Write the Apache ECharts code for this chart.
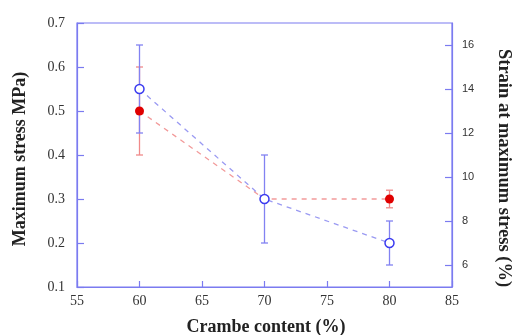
<!DOCTYPE html>
<html><head><meta charset="utf-8">
<script src="https://cdn.jsdelivr.net/npm/echarts@6/dist/echarts.min.js"></script>
<style>html,body{margin:0;padding:0;background:#fff}#c{width:512px;height:335px}</style>
</head><body><div id="c"></div>
<script>
const crambe = [60, 70, 80];
const stress = [0.5, 0.3, 0.3];
const stressLow = [0.4, 0.3, 0.28];
const stressHigh = [0.6, 0.3, 0.32];
const strain = [14, 9, 7];
const strainLow = [12, 7, 6];
const strainHigh = [16, 11, 8];
const xTicks = [55, 60, 65, 70, 75, 80, 85];
const leftTicks = [0.1, 0.2, 0.3, 0.4, 0.5, 0.6, 0.7];
const rightTicks = [6, 8, 10, 12, 14, 16];
const xTitle = 'Crambe content (%)';
const leftTitle = 'Maximum stress MPa)';
const rightTitle = 'Strain at maximum stress (%)';

const axisBlue = '#7b7bf0';
const serif = '"Liberation Serif", "DejaVu Serif", serif';
const titleFont = 'bold 18px "Liberation Serif", "DejaVu Serif", serif';

function errSeries(yIdx, lo, hi, color) {
  return {
    type: 'custom', yAxisIndex: yIdx, z: 2,
    data: crambe.map((x, i) => [x, lo[i], hi[i]]),
    renderItem: function (params, api) {
      const p1 = api.coord([api.value(0), api.value(1)]);
      const p2 = api.coord([api.value(0), api.value(2)]);
      if (Math.abs(p1[1] - p2[1]) < 1) return null;
      const w = 3.5;
      const st = { stroke: color, lineWidth: 1.3 };
      return { type: 'group', children: [
        { type: 'line', shape: { x1: p1[0], y1: p1[1], x2: p2[0], y2: p2[1] }, style: st },
        { type: 'line', shape: { x1: p1[0] - w, y1: p1[1], x2: p1[0] + w, y2: p1[1] }, style: st },
        { type: 'line', shape: { x1: p2[0] - w, y1: p2[1], x2: p2[0] + w, y2: p2[1] }, style: st }
      ]};
    }
  };
}

const chart = echarts.init(document.getElementById('c'));
chart.setOption({
  animation: false,
  grid: { left: 77, right: 60, top: 23, bottom: 48, containLabel: false, outerBoundsMode: 'none',
    show: true, borderColor: axisBlue, borderWidth: 1.2, backgroundColor: 'transparent' },
  graphic: [
    { type: 'text', x: 266, y: 327, style: { text: xTitle, font: titleFont, fill: '#222', textAlign: 'center', textVerticalAlign: 'middle' } },
    { type: 'text', x: 20, y: 159, rotation: Math.PI / 2, style: { text: leftTitle, font: titleFont, fill: '#222', textAlign: 'center', textVerticalAlign: 'middle' } },
    { type: 'text', x: 504, y: 168, rotation: -Math.PI / 2, style: { text: rightTitle, font: 'bold 18.5px "Liberation Serif", "DejaVu Serif", serif', fill: '#222', textAlign: 'center', textVerticalAlign: 'middle' } }
  ],
  xAxis: {
    type: 'value', min: 55, max: 85, interval: 5,
    axisLine: { lineStyle: { color: axisBlue, width: 1.2 } },
    axisTick: { inside: true, length: 6, lineStyle: { color: axisBlue, width: 1.2 } },
    axisLabel: { color: '#333', fontFamily: serif, fontSize: 14, margin: 7, customValues: xTicks },
    splitLine: { show: false }
  },
  yAxis: [{
    type: 'value', min: 0.1, max: 0.7, interval: 0.1,
    axisLine: { show: true, lineStyle: { color: axisBlue, width: 1.2 } },
    axisTick: { inside: true, length: 7, lineStyle: { color: axisBlue, width: 1.2 } },
    axisLabel: { color: '#333', fontFamily: serif, fontSize: 14, margin: 12, formatter: v => v.toFixed(1) },
    splitLine: { show: false }
  }, {
    type: 'value', min: 5, max: 17, position: 'right',
    axisLine: { show: true, lineStyle: { color: axisBlue, width: 1.2 } },
    axisTick: { inside: true, length: 7, lineStyle: { color: axisBlue, width: 1.2 }, customValues: rightTicks },
    axisLabel: { color: '#333', fontFamily: '"Liberation Sans", Arial, sans-serif', fontSize: 11, margin: 10, customValues: rightTicks },
    splitLine: { show: false }
  }],
  series: [
    errSeries(0, stressLow, stressHigh, '#f08a8a'),
    errSeries(1, strainLow, strainHigh, '#8282f2'),
    { type: 'line', yAxisIndex: 0, z: 3, data: crambe.map((x, i) => [x, stress[i]]),
      symbol: 'none', lineStyle: { color: '#f29a9a', type: [5, 5], width: 1.3 } },
    { type: 'line', yAxisIndex: 1, z: 3, data: crambe.map((x, i) => [x, strain[i]]),
      symbol: 'none', lineStyle: { color: '#9a9af2', type: [5, 5], width: 1.3 } },
    { type: 'scatter', yAxisIndex: 0, z: 4, data: crambe.map((x, i) => [x, stress[i]]),
      symbol: 'circle', symbolSize: 9, itemStyle: { color: '#e00000', opacity: 1 } },
    { type: 'scatter', yAxisIndex: 1, z: 5, data: crambe.map((x, i) => [x, strain[i]]),
      symbol: 'circle', symbolSize: 9, itemStyle: { color: '#fff', borderColor: '#3c3cf0', borderWidth: 1.5, opacity: 1 } }
  ]
});
</script></body></html>
